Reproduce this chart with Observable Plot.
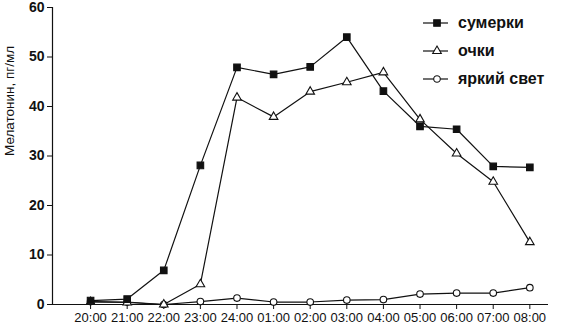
<!DOCTYPE html>
<html><head><meta charset="utf-8">
<script src="https://cdn.jsdelivr.net/npm/d3@7"></script>
<script src="https://cdn.jsdelivr.net/npm/@observablehq/plot@0.6"></script>
<style>
body{margin:0;background:#fff;}
#wrap{position:relative;width:570px;height:332px;font-family:"Liberation Sans",Arial,sans-serif;}
#legend{position:absolute;left:421px;top:9px;}
.row{display:flex;align-items:center;height:28px;font-size:16px;font-weight:bold;color:#111;}
.row svg{margin-right:7px;}
</style></head><body><div id="wrap"><div id="legend"></div></div>
<script>
const times = ["20:00","21:00","22:00","23:00","24:00","01:00","02:00","03:00","04:00","05:00","06:00","07:00","08:00"];
const sumerki = [0.8,1.1,6.9,28.1,47.9,46.5,48.0,54.0,43.1,36.0,35.4,27.9,27.7];
const ochki   = [0.5,0.4,0.0,4.1,41.8,37.9,43.0,44.9,46.9,37.4,30.5,24.8,12.6];
const svet    = [0.6,0.5,0.0,0.6,1.3,0.5,0.5,0.9,1.0,2.1,2.3,2.3,3.4];
const seriesNames = ["сумерки","очки","яркий свет"];
const yTicks = [0,10,20,30,40,50,60];
const yLabel = "Мелатонин, пг/мл";

// styles
const symbols = ["square","triangle","circle"];
const fills = ["#111","white","white"];
const radii = [3.7,3.2,3.3];
const xDomain = [-1.04, 12.51];

const values = [sumerki, ochki, svet];
const data = [];
values.forEach((arr, k) => arr.forEach((v, i) => data.push({i, v, s: seriesNames[k]})));

const marks = [
  Plot.ruleY([0], {stroke: "#111", strokeWidth: 1.2}),
  Plot.ruleX([xDomain[0]], {stroke: "#111", strokeWidth: 1.2}),
  Plot.axisY({ticks: yTicks, tickSize: 5, tickPadding: 3, fontSize: 14, fontWeight: "bold", label: null}),
  Plot.axisX({ticks: times.map((_, i) => i), tickFormat: i => times[i], tickSize: 5, tickPadding: 3, fontSize: 13, label: null}),
  Plot.text([yLabel], {frameAnchor: "left", rotate: -90, dx: -43, fontSize: 13.5}),
  Plot.line(data, {x: "i", y: "v", z: "s", stroke: "#111", strokeWidth: 1.2})
];
seriesNames.slice().reverse().forEach(name => {
  const k = seriesNames.indexOf(name);
  marks.push(Plot.dot(data.filter(d => d.s === name), {x: "i", y: "v", symbol: symbols[k], r: radii[k], fill: fills[k], stroke: "#111", strokeWidth: 1.1}));
});

const chart = Plot.plot({
  width: 570, height: 332,
  marginLeft: 52, marginRight: 22, marginTop: 7, marginBottom: 28,
  x: {domain: xDomain},
  y: {domain: [0, 60]},
  style: {fontFamily: "'Liberation Sans', Arial, sans-serif", color: "#111", background: "white", overflow: "visible"},
  marks
});
const wrap = document.getElementById("wrap");
wrap.insertBefore(chart, wrap.firstChild);

// legend
const legend = document.getElementById("legend");
seriesNames.forEach((name, k) => {
  const row = document.createElement("div");
  row.className = "row";
  const svg = d3.create("svg").attr("width", 30).attr("height", 14);
  svg.append("line").attr("x1", 2).attr("x2", 27).attr("y1", 7).attr("y2", 7).attr("stroke", "#111").attr("stroke-width", 1.2);
  const size = Math.PI * radii[k] * radii[k];
  const sym = {square: d3.symbolSquare, triangle: d3.symbolTriangle, circle: d3.symbolCircle}[symbols[k]];
  svg.append("path").attr("transform", "translate(16,7)").attr("d", d3.symbol(sym, size)()).attr("fill", fills[k]).attr("stroke", "#111").attr("stroke-width", 1.1);
  row.appendChild(svg.node());
  const span = document.createElement("span");
  span.textContent = name;
  row.appendChild(span);
  legend.appendChild(row);
});
</script></body></html>
